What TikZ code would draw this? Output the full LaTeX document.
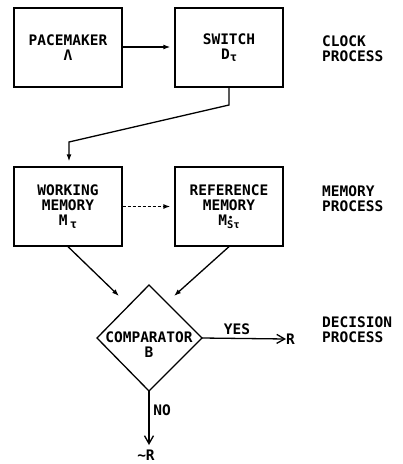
\documentclass[tikz,border=0pt]{standalone}
\usepackage{fontspec}
\setmonofont{DejaVu Sans Mono}
\usetikzlibrary{arrows.meta}
\newcommand\subtau{\raisebox{-2.5pt}{\fontsize{12}{12}\selectfont τ}}
\newcommand\refsub{\rlap{\raisebox{5.5pt}{\fontsize{7}{7}\selectfont\kern1.5pt$\bullet$}}\raisebox{-3pt}{\fontsize{10.5}{10.5}\selectfont Sτ}}
\begin{document}
\begin{tikzpicture}[x=1pt,y=-1pt,
  every node/.style={font=\ttfamily\bfseries\fontsize{14.5}{15}\selectfont},
  blk/.style={draw,line width=1.3pt,minimum width=108pt,minimum height=79pt,inner sep=0pt,align=center},
  lbl/.style={align=left,anchor=west,inner sep=0pt},
  con/.style={line width=1.3pt,-{Latex[length=7pt,width=5pt]}},
  bigarr/.style={line width=1.3pt,-{Straight Barb[length=8pt,width=9pt,line width=1.3pt]}}]
\useasboundingbox (0,0) rectangle (403,464);
\node[blk] (pace) at (68,47.5) {PACEMAKER\\Λ};
\node[blk] (sw) at (229,47.5) {SWITCH\\D\subtau};
\node[blk] (wm) at (68,206.5) {WORKING\\MEMORY\\M\,\subtau};
\node[blk] (rm) at (229,206.5) {REFERENCE\\MEMORY\\M\refsub};
\node[lbl] (clock) at (322,49) {CLOCK\\PROCESS};
\node[lbl] (mem) at (322,199) {MEMORY\\PROCESS};
\node[lbl] (dec) at (322,330) {DECISION\\PROCESS};
% diamond
\coordinate (dt) at (149,285);
\coordinate (dl) at (97,338);
\coordinate (dr) at (202,338);
\coordinate (db) at (149,391);
\draw[line width=1.3pt,line join=miter] (dt) -- (dr) -- (db) -- (dl) -- cycle;
\node[align=center,inner sep=0pt] (comp) at (149,345) {COMPARATOR\\B};
% connectors
\draw[con,shorten >=4pt] (pace.east |- 0,47) -- (sw.west |- 0,47);
\coordinate (k1) at (229,105);
\coordinate (k2) at (69,142);
\draw[con,shorten >=5pt] (sw.south) -- (k1) -- (k2) -- (wm.north -| k2);
\draw[con,dashed,dash pattern=on 3pt off 2pt,shorten >=4pt] (wm.east) -- (rm.west);
\coordinate (a1) at (119,296);
\coordinate (a2) at (174,296);
\draw[con] (wm.south) -- (a1);
\draw[con] (rm.south) -- (a2);
\node[inner sep=0pt,anchor=west] (R) at (286,339) {R};
\draw[bigarr] (dr) -- (R.west);
\node[inner sep=0pt] (yes) at (237,329) {YES};
\node[inner sep=0pt] (nR) at (146,455) {\textasciitilde R};
\coordinate (nend) at (149,445);
\draw[bigarr] (db) -- (nend);
\node[inner sep=0pt] (no) at (162,410) {NO};
\end{tikzpicture}
\end{document}
